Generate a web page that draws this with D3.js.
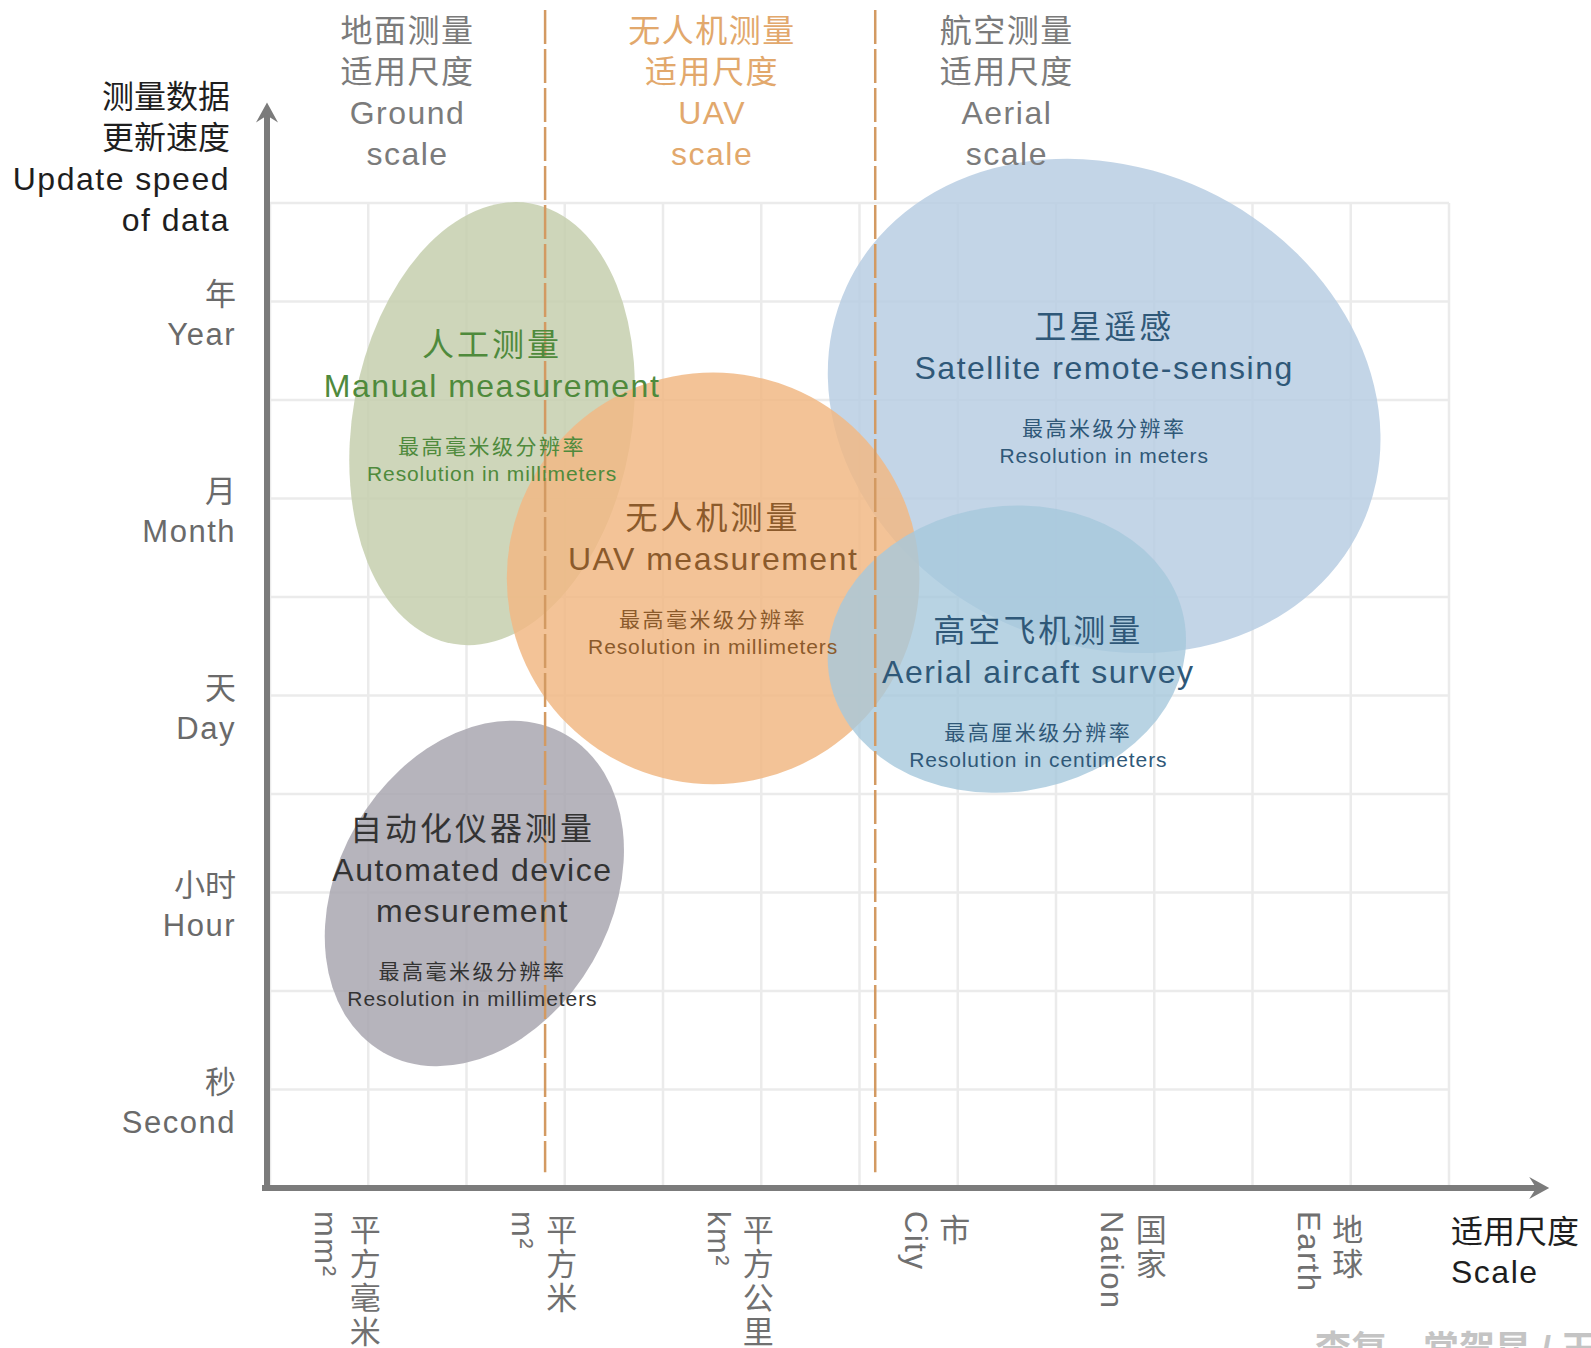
<html>
<head>
<meta charset="utf-8">
<title>测量尺度与更新速度</title>
<style>
  html, body { margin: 0; background: #fff; }
  body { width: 1591px; height: 1348px; overflow: hidden; }
  text { font-family: "Liberation Sans", Arial, "Noto Sans CJK SC", sans-serif; }
  .en { letter-spacing: 1.5px; }
  .small { font-size: 21px; }
</style>
</head>
<body>
<div id="chart"></div>
<script src="https://cdn.jsdelivr.net/npm/d3@7"></script>
<script>
// ---- data ----
// y: update speed (grid rows, 0 = axis)
var yTickPos = [9, 7, 5, 3, 1]
var yTickZh = ["年", "月", "天", "小时", "秒"]
var yTickEn = ["Year", "Month", "Day", "Hour", "Second"]

// x: scale (grid columns)
var xTickPos = [1, 3, 5, 7, 9, 11]
var xTickZh = ["平方毫米", "平方米", "平方公里", "市", "国家", "地球"]
var xTickEn = ["mm²", "m²", "km²", "City", "Nation", "Earth"]

// scale bands above the chart
var bandPos = [1.4, 4.5, 7.5]
var bandZh = ["地面测量", "无人机测量", "航空测量"]
var bandEn = ["Ground", "UAV", "Aerial"]
var bandColor = ["#7b7b7b", "#e2a86c", "#7b7b7b"]
var dividerPos = [2.8, 6.16]

// measurement zones (grid units)
var zoneZh = ["人工测量", "自动化仪器测量", "卫星遥感", "无人机测量", "高空飞机测量"]
var zoneEn = [["Manual measurement"], ["Automated device", "mesurement"], ["Satellite remote-sensing"], ["UAV measurement"], ["Aerial aircaft survey"]]
var zoneResZh = ["最高毫米级分辨率", "最高毫米级分辨率", "最高米级分辨率", "最高毫米级分辨率", "最高厘米级分辨率"]
var zoneResEn = ["Resolution in millimeters", "Resolution in millimeters", "Resolution in meters", "Resolution in millimeters", "Resolution in centimeters"]
var zoneCx = [2.26, 2.08, 8.49, 4.51, 7.50]
var zoneCy = [7.76, 2.99, 7.94, 6.19, 5.47]
var zoneRx = [1.42, 1.39, 2.89, 2.10, 1.83]
var zoneRy = [2.27, 1.86, 2.42, 2.09, 1.45]
var zoneRot = [10, 30, 25, 0, -8]
var zoneLabelX = [2.26, 2.06, 8.49, 4.51, 7.82]
var zoneLabelY = [8.45, 3.53, 8.63, 6.69, 5.54]   // row of the first title line
var zoneFill = ["#c6cfae", "#a9a7b0", "#b9cee3", "#f1b985", "#a6c8dc"]
var zoneText = ["#4f8a3c", "#333333", "#2f5878", "#8b5a2b", "#2f5878"]

// ---- layout ----
var width = 1591, height = 1348
var x = d3.scaleLinear().domain([0, 12]).range([270, 1449])
var y = d3.scaleLinear().domain([0, 10]).range([1188, 203])

var svg = d3.select("#chart").append("svg")
  .attr("width", width)
  .attr("height", height)

// grid
var grid = svg.append("g")
  .attr("stroke", "#ebebeb")
  .attr("stroke-width", 2.5)
grid.selectAll("line.v").data(d3.range(0, 13)).enter().append("line")
  .attr("class", "v")
  .attr("x1", function(d) { return x(d) }).attr("x2", function(d) { return x(d) })
  .attr("y1", y(10)).attr("y2", y(0))
grid.selectAll("line.h").data(d3.range(1, 11)).enter().append("line")
  .attr("class", "h")
  .attr("x1", x(0)).attr("x2", x(12))
  .attr("y1", function(d) { return y(d) }).attr("y2", function(d) { return y(d) })

// zones
svg.append("g").selectAll("ellipse").data(zoneCx).enter().append("ellipse")
  .attr("cx", 0).attr("cy", 0)
  .attr("rx", function(d, i) { return x(zoneRx[i]) - x(0) })
  .attr("ry", function(d, i) { return y(0) - y(zoneRy[i]) })
  .attr("transform", function(d, i) { return "translate(" + x(d) + "," + y(zoneCy[i]) + ") rotate(" + zoneRot[i] + ")" })
  .attr("fill", function(d, i) { return zoneFill[i] })
  .attr("fill-opacity", function(d, i) { return i === 4 ? 0.8 : 0.85 })

// dividers
svg.append("g").selectAll("line").data(dividerPos).enter().append("line")
  .attr("x1", function(d) { return x(d) }).attr("x2", function(d) { return x(d) })
  .attr("y1", 10).attr("y2", y(0.16))
  .attr("stroke", "#d39a62")
  .attr("stroke-width", 2.5)
  .attr("stroke-dasharray", "34,5")

// axes
var axisColor = "#7b7b7b"
svg.append("line")
  .attr("x1", x(0) - 3).attr("x2", x(0) - 3)
  .attr("y1", y(0) + 3).attr("y2", y(10.9))
  .attr("stroke", axisColor).attr("stroke-width", 6)
svg.append("line")
  .attr("x1", x(0) - 8).attr("x2", x(12.95))
  .attr("y1", y(0)).attr("y2", y(0))
  .attr("stroke", axisColor).attr("stroke-width", 6)
var ax = x(0) - 3, ay = y(11.02)
svg.append("path")
  .attr("d", "M" + ax + "," + ay + "L" + (ax - 11) + "," + (ay + 20) + "L" + ax + "," + (ay + 13) + "L" + (ax + 11) + "," + (ay + 20) + "Z")
  .attr("fill", axisColor)
var bx = x(13.02), by = y(0)
svg.append("path")
  .attr("d", "M" + bx + "," + by + "L" + (bx - 20) + "," + (by - 11) + "L" + (bx - 13) + "," + by + "L" + (bx - 20) + "," + (by + 11) + "Z")
  .attr("fill", axisColor)

// y axis title
var yTitle = svg.append("text")
  .attr("text-anchor", "end")
  .attr("fill", "#1e1e1e")
  .attr("font-size", 32)
;["测量数据", "更新速度", "Update speed", "of data"].forEach(function(s, i) {
  yTitle.append("tspan").attr("x", 230).attr("y", 108 + i * 41)
    .attr("class", i > 1 ? "en" : null).text(s)
})

// y ticks
var yt = svg.append("g").selectAll("g").data(yTickPos).enter().append("g")
  .attr("fill", "#6a6a6a")
  .attr("font-size", 31)
  .attr("text-anchor", "end")
yt.append("text").attr("x", 236).attr("y", function(d) { return y(d) + 3 })
  .text(function(d, i) { return yTickZh[i] })
yt.append("text").attr("class", "en").attr("x", 236).attr("y", function(d) { return y(d) + 43 })
  .text(function(d, i) { return yTickEn[i] })

// x ticks
var xt = svg.append("g").selectAll("g").data(xTickPos).enter().append("g")
  .attr("fill", "#707070")
  .attr("font-size", 31)
xt.append("text")
  .attr("class", "en")
  .attr("transform", function(d) { return "translate(" + (x(d) - 53) + ",1211) rotate(90)" })
  .text(function(d, i) { return xTickEn[i] })
xt.each(function(d, i) {
  d3.select(this).selectAll("text.zh").data(xTickZh[i].split("")).enter().append("text")
    .attr("class", "zh")
    .attr("text-anchor", "middle")
    .attr("x", x(d) - 3)
    .attr("y", function(c, j) { return 1241 + j * 34 })
    .text(function(c) { return c })
})

// x axis title
var xTitle = svg.append("text")
  .attr("fill", "#1e1e1e")
  .attr("font-size", 32)
xTitle.append("tspan").attr("x", x(12) + 2).attr("y", 1243).text("适用尺度")
xTitle.append("tspan").attr("class", "en").attr("x", x(12) + 2).attr("y", 1283).text("Scale")

// band headers
var bh = svg.append("g").selectAll("text").data(bandPos).enter().append("text")
  .attr("text-anchor", "middle")
  .attr("font-size", 32)
  .attr("fill", function(d, i) { return bandColor[i] })
bh.each(function(d, i) {
  var t = d3.select(this)
  var lines = [bandZh[i], "适用尺度", bandEn[i], "scale"]
  lines.forEach(function(s, j) {
    t.append("tspan").attr("x", x(d)).attr("y", 42 + j * 41)
      .attr("class", j > 1 ? "en" : null).attr("letter-spacing", j > 1 ? null : 1.5).text(s)
  })
})

// zone labels
var zl = svg.append("g").selectAll("text").data(zoneLabelX).enter().append("text")
  .attr("text-anchor", "middle")
  .attr("fill", function(d, i) { return zoneText[i] })
zl.each(function(d, i) {
  var t = d3.select(this)
  var cx = x(d)
  var top = y(zoneLabelY[i])
  t.append("tspan").attr("x", cx).attr("y", top).attr("font-size", 32).attr("letter-spacing", 3).text(zoneZh[i])
  var yy = top
  zoneEn[i].forEach(function(s) {
    yy += 41
    t.append("tspan").attr("x", cx).attr("y", yy).attr("font-size", 32).attr("class", "en").text(s)
  })
  t.append("tspan").attr("x", cx).attr("y", yy + 57).attr("class", "small").attr("letter-spacing", 2.5).text(zoneResZh[i])
  t.append("tspan").attr("x", cx).attr("y", yy + 84).attr("class", "small").attr("letter-spacing", 0.9).text(zoneResEn[i])
})

// credit, cut off at the bottom edge
svg.append("text")
  .attr("x", 1315).attr("y", 1362)
  .attr("font-size", 36)
  .attr("font-weight", "bold")
  .attr("fill", "#c4c4c4")
  .text("李复　常贺昆 / 王")
</script>
</body>
</html>
